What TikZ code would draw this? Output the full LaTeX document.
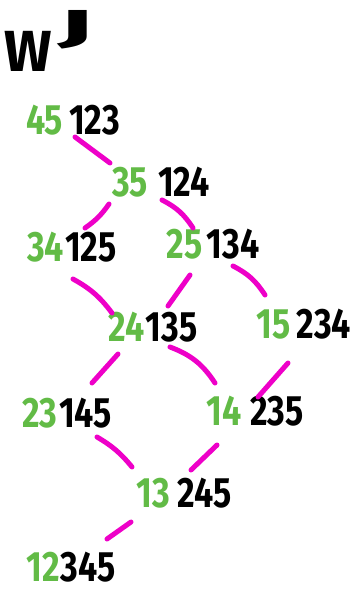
\documentclass[tikz,border=0pt]{standalone}
\usepackage{fontspec}
\setmainfont{Fira Sans}
\usepackage{graphicx}
\definecolor{hgreen}{RGB}{98,187,70}
\definecolor{hpink}{RGB}{238,0,200}
\tikzset{
  lbl/.style={inner sep=0pt, font=\fontsize{34}{34}\selectfont\bfseries},
  ttl/.style={inner sep=0pt, anchor=base west, font=\fontsize{40}{40}\selectfont\bfseries},
  conn/.style={hpink, line width=5pt, line cap=round},
}
\newcommand{\lab}[3][4pt]{\scalebox{1}[1.25]{\textcolor{hgreen}{#2}\hspace{#1}#3}}
\begin{document}
\begin{tikzpicture}[x=1pt,y=-1pt]
\useasboundingbox (0,0) rectangle (357,591);
\node[ttl] (T) at (4,72) {\scalebox{1.4}[1.45]{W}\hspace{7pt}\raisebox{30pt}{\scalebox{2.8}[1.12]{J}}};
\node[lbl] (A) at (73,120) {\lab[6pt]{45}{123}};
\node[lbl] (B) at (161,182) {\lab[10pt]{35}{124}};
\node[lbl] (C) at (72,247) {\lab[1pt]{34}{125}};
\node[lbl] (D) at (213,244) {\lab[4pt]{25}{134}};
\node[lbl] (E) at (153,327) {\lab[1pt]{24}{135}};
\node[lbl] (F) at (304,324) {\lab[6pt]{15}{234}};
\node[lbl] (G) at (67,413) {\lab[2pt]{23}{145}};
\node[lbl] (H) at (255,411) {\lab[9pt]{14}{235}};
\node[lbl] (I) at (184,493) {\lab[8pt]{13}{245}};
\node[lbl] (J) at (71,567) {\lab[1pt]{12}{345}};
\draw[conn] ([shift={(2,17)}]A.center) -- ([shift={(-51,-19)}]B.center);
\draw[conn] ([shift={(-52,22)}]B.center) to[bend left=10] ([shift={(13,-19)}]C.center);
\draw[conn] ([shift={(1,18)}]B.center) to[bend left=15] ([shift={(-20,-16)}]D.center);
\draw[conn] ([shift={(1,32)}]C.center) to[bend left=12] ([shift={(-41,-14)}]E.center);
\draw[conn] ([shift={(-23,31)}]D.center) -- ([shift={(15,-21)}]E.center);
\draw[conn] ([shift={(20,22)}]D.center) to[bend left=15] ([shift={(-39,-29)}]F.center);
\draw[conn] ([shift={(-35,27)}]E.center) -- ([shift={(25,-30)}]G.center);
\draw[conn] ([shift={(17,20)}]E.center) to[bend left=18] ([shift={(-40,-28)}]H.center);
\draw[conn] ([shift={(-16,39)}]F.center) -- ([shift={(3,-14)}]H.center);
\draw[conn] ([shift={(30,24)}]G.center) to[bend left=10] ([shift={(-52,-26)}]I.center);
\draw[conn] ([shift={(-38,34)}]H.center) -- ([shift={(7,-23)}]I.center);
\draw[conn] ([shift={(-53,29)}]I.center) -- ([shift={(36,-28)}]J.center);
\end{tikzpicture}
\end{document}
